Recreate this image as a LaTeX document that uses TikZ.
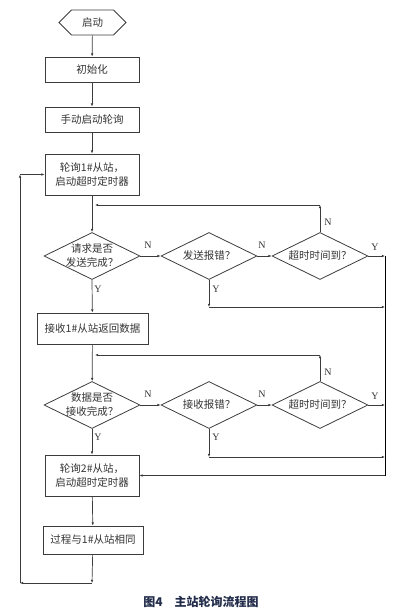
\documentclass[tikz,border=0pt]{standalone}
\usepackage{fontspec}
\setmainfont{Liberation Serif}
\newfontfamily\cjk{Noto Sans CJK SC}
\usetikzlibrary{shapes.geometric,shapes.symbols,arrows.meta}
\definecolor{lc}{HTML}{3C3C3C}
\definecolor{txt}{HTML}{333333}
\definecolor{capc}{RGB}{35,45,75}
\begin{document}
\begin{tikzpicture}[x=1pt,y=-1pt,
  box/.style={draw=lc, line width=0.8pt, minimum width=94pt, minimum height=25pt, inner sep=0pt,
    font=\cjk\fontsize{10.5}{14.5}\selectfont, align=center, text=txt},
  hexa/.style={draw=lc, line width=0.8pt, shape=signal, signal to=west and east, signal pointer angle=90,
    minimum width=67pt, minimum height=25pt, inner sep=0pt, font=\cjk\fontsize{10.5}{14.5}\selectfont, text=txt},
  dia/.style={draw=lc, line width=0.8pt, diamond, minimum width=96pt, minimum height=47pt, inner sep=0pt},
  dtext/.style={font=\cjk\fontsize{10.5}{14}\selectfont, align=center, text=txt, inner sep=0pt},
  arr/.style={draw=lc, line width=0.7pt, -{Latex[length=3.2pt,width=2.6pt]}},
  ln/.style={draw=black, line width=0.8pt},
  lab/.style={font=\fontsize{10}{12}\selectfont, text=txt, inner sep=0pt},
  captext/.style={font=\cjk\bfseries\fontsize{12}{14}\selectfont, text=capc}
]
\useasboundingbox (0,0) rectangle (404,613);

% nodes
\node[hexa] (start) at (92.5,22.5) {启动};
\node[box] (init) at (92,69.5) {初始化};
\node[box] (manual) at (92,119.5) {手动启动轮询};
\node[box, minimum height=41pt] (poll1) at (92,174.5) {轮询1\#从站，\\启动超时定时器};

\node[dia, label={[dtext]center:请求是否\\发送完成？}] (d1) at (92,256) {};
\node[dia, label={[dtext]center:发送报错？}] (d2) at (209,256) {};
\node[dia, label={[dtext]center:超时时间到？}] (d3) at (320,256) {};

\node[box, minimum width=111pt, minimum height=31pt] (recv1) at (92.5,328.5) {接收1\#从站返回数据};

\node[dia, label={[dtext]center:数据是否\\接收完成？}] (d4) at (92,405) {};
\node[dia, label={[dtext]center:接收报错？}] (d5) at (209,405) {};
\node[dia, label={[dtext]center:超时时间到？}] (d6) at (320,405) {};

\node[box, minimum height=41pt] (poll2) at (92,475.5) {轮询2\#从站，\\启动超时定时器};
\node[box, minimum width=100pt, minimum height=28pt] (same) at (93,540) {过程与1\#从站相同};

\node[captext] (caption) at (201,602) {图4\hspace{1em}主站轮询流程图};

% coordinates
\coordinate (fb1) at (95,205);
\coordinate (fb2) at (95,355);
\coordinate (r1) at (385,256);
\coordinate (r2) at (385,405);
\coordinate (r3) at (385,475.5);
\coordinate (j1) at (209,307);
\coordinate (j2) at (209,457);
\coordinate (l1) at (92,583);
\coordinate (l2) at (20,583);
\coordinate (l3) at (20,174.5);

% main chain
\draw[arr] (start) -- (init);
\draw[arr] (init) -- (manual);
\draw[arr] (manual) -- (poll1);
\draw[arr] (poll1) -- (d1);

% upper block
\draw[arr] (d1.east) -- (d2.west);
\draw[arr] (d2.east) -- (d3.west);
\draw[arr] (d3.north) -- (d3.north |- fb1);
\draw[arr] (d3.north |- fb1) -- (fb1);
\draw[arr] (d3.east) -- (r1);
\draw[arr] (d2.south) -- (j1);
\draw[arr] (j1) -- (r1 |- j1);
\draw[arr] (d1.south) -- (recv1);
\node[lab] (n1) at (148,245) {N};
\node[lab] (n2) at (262,245) {N};
\node[lab] (n3) at (328,222) {N};
\node[lab] (y1) at (375,247) {Y};
\node[lab] (y2) at (216,289) {Y};
\node[lab] (y3) at (98,289) {Y};

% lower block
\draw[arr] (recv1) -- (d4);
\draw[arr] (d4.east) -- (d5.west);
\draw[arr] (d5.east) -- (d6.west);
\draw[arr] (d6.north) -- (d6.north |- fb2);
\draw[arr] (d6.north |- fb2) -- (fb2);
\draw[arr] (d6.east) -- (r2);
\draw[arr] (d5.south) -- (j2);
\draw[arr] (j2) -- (r1 |- j2);
\draw[arr] (d4.south) -- (poll2);
\node[lab] (n4) at (148,394) {N};
\node[lab] (n5) at (262,394) {N};
\node[lab] (n6) at (328,372) {N};
\node[lab] (y4) at (375,396) {Y};
\node[lab] (y5) at (216,437) {Y};
\node[lab] (y6) at (98,437) {Y};

% right bus
\draw[ln] (r1) -- (r3);
\draw[arr] (r3) -- (poll2.east);

% tail and loop back
\draw[arr] (poll2) -- (same);
\draw[arr] (same) -- (l1);
\draw[arr] (l1) -- (l2);
\draw[arr] (l2) -- (l3);
\draw[arr] (l3) -- (poll1.west);
\end{tikzpicture}
\end{document}
